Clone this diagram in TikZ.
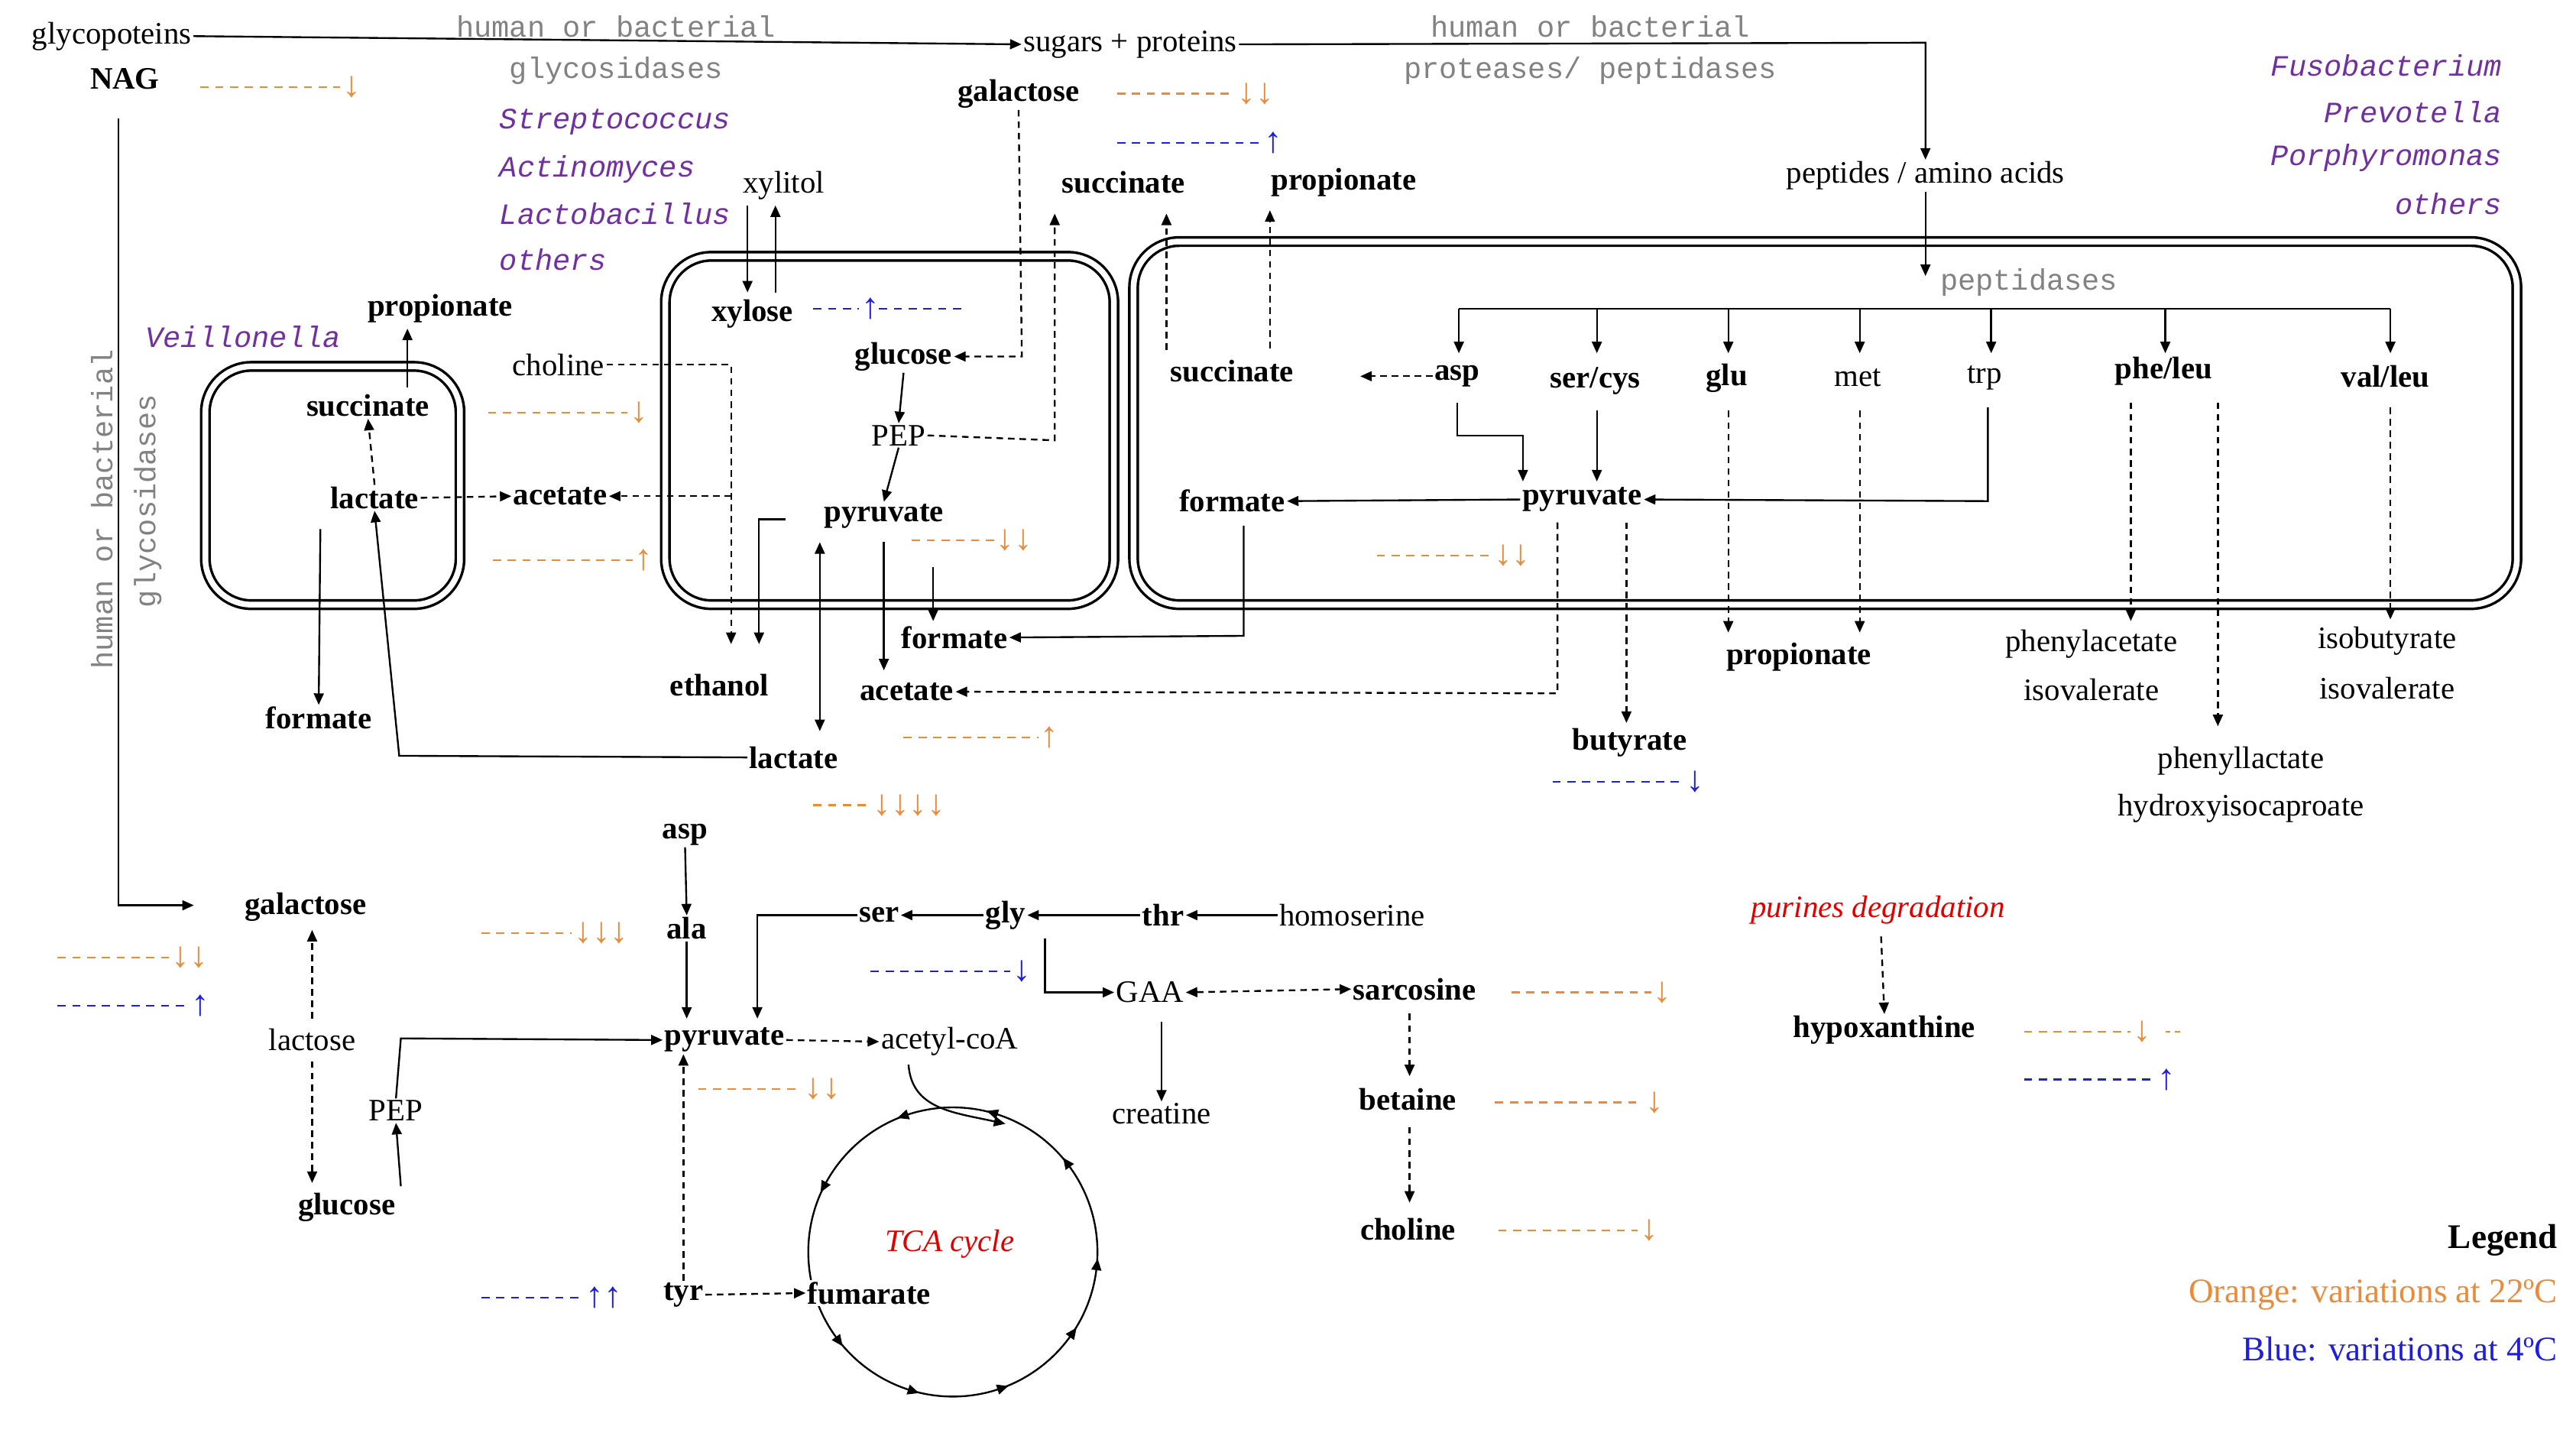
\documentclass[tikz,border=0pt]{standalone}
\usepackage{fontspec}
\setmainfont{Liberation Serif}
\newfontfamily\monof{Liberation Mono}
\usetikzlibrary{arrows.meta,decorations.markings}
\definecolor{org}{RGB}{232,140,60}
\definecolor{blu}{RGB}{30,30,220}
\definecolor{pur}{RGB}{112,48,160}
\definecolor{gry}{RGB}{130,130,130}
\definecolor{rd}{RGB}{225,0,0}
\newcommand\vm[5]{\draw[#4,dashed,dash pattern=on 5pt off 4pt,line width=1pt] (#1,#2) -- ++(#3,0) node[right,inner sep=1pt,text=#4,font=\fontsize{22}{22}\selectfont]{#5};}
\begin{document}
\begin{tikzpicture}[x=1pt,y=-1pt,
 every node/.style={inner sep=1pt,font=\fontsize{19}{20}\selectfont},
 b/.style={font=\fontsize{19}{20}\selectfont\bfseries},
 g/.style={text=gry,font=\fontsize{18}{20}\selectfont\monof},
 p/.style={text=pur,font=\fontsize{18}{20}\selectfont\monof\itshape},
 a/.style={-{Triangle[length=7pt,width=6pt]},line width=1.1pt},
 d/.style={a,dashed,dash pattern=on 4pt off 3pt},
 dd/.style={{Triangle[length=7pt,width=6pt]}-{Triangle[length=7pt,width=6pt]},line width=1.1pt},
 box/.style={double,double distance=3.5pt,line width=1.6pt,rounded corners=28pt}]
\useasboundingbox (0,0) rectangle (1568,874);
% boxes
\draw[box] (125,223) rectangle (280,368);
\draw[box] (405,156) rectangle (678,368);
\draw[box] (690,147) rectangle (1532,368);
% top
\node (glyco) at (68,22) {glycopoteins};
\node[b] (nag) at (76,48) {NAG};
\node[g] at (375,16) {human or bacterial};
\node[g] at (375,43) {glycosidases};
\node (sug) at (688,27) {sugars + proteins};
\node[b] (gal1) at (620,57) {galactose};
\node[g] at (968,16) {human or bacterial};
\node[g] at (968,43) {proteases/ peptidases};
\node (pep) at (1172,107) {peptides / amino acids};
\draw[a] (glyco.east) -- (sug.west);
\draw[a] (sug.east) -- (1172,26) -- (pep.north);
\node[p,anchor=east] at (1524,40) {Fusobacterium};
\node[p,anchor=east] at (1524,68) {Prevotella};
\node[p,anchor=east] at (1524,96) {Porphyromonas};
\node[p,anchor=east] at (1524,124) {others};
\node[p,anchor=west] at (303,74) {Streptococcus};
\node[p,anchor=west] at (303,103) {Actinomyces};
\node[p,anchor=west] at (303,130) {Lactobacillus};
\node[p,anchor=west] at (303,158) {others};
\node[p] at (148,205) {Veillonella};
\vm{122}{53}{85}{org}{↓}
\vm{680}{57}{72}{org}{↓↓}
\vm{680}{87}{88}{blu}{↑}
% left rotated
\node[g,rotate=90] at (62,310) {human or bacterial};
\node[g,rotate=90] at (90,305) {glycosidases};
% Veillonella box
\node[b] (suc1) at (224,247) {succinate};
\node[b] (lac1) at (228,303) {lactate};
\node[b] (prop1) at (268,188) {propionate};
\node[b] (ace1) at (341,302) {acetate};
\node[b] (for1) at (194,437) {formate};
\node (chol1) at (340,222) {choline};
\draw[a] (248,236) -- (248,200);
\draw[d] (lac1.north) -- (suc1.south);
\draw[d] (lac1.east) -- (ace1.west);
\draw[a] (195,322) -- (for1.north);
\vm{297}{251}{85}{org}{↓}
\vm{300}{341}{85}{org}{↑}
% middle box
\node (xylitol) at (477,113) {xylitol};
\node[b] (xyl) at (458,191) {xylose};
\node[b] (glc1) at (550,217) {glucose};
\node (pep1) at (547,265) {PEP};
\node[b] (pyr1) at (538,314) {pyruvate};
\node[b] (for2) at (581,388) {formate};
\node[b] (eth) at (438,417) {ethanol};
\node[b] (ace2) at (552,421) {acetate};
\node[b] (lac2) at (483,461) {lactate};
\node[b] (suc2) at (684,111) {succinate};
\node[b] (prop2) at (818,111) {propionate};
\draw[a] (455,125) -- (455,178);
\draw[a] (472,178) -- (472,125);
\vm{495}{188}{28}{blu}{↑}
\draw[blu,dashed,dash pattern=on 5pt off 4pt,line width=1pt] (535,188) -- (585,188);
\draw[d] (gal1.south) -- (622,217) -- (glc1.east);
\draw[a] (glc1.south) -- (pep1.north);
\draw[a] (pep1.south) -- (pyr1.north);
\draw[d] (pep1.east) -- (642,268) -- (642,130);
\draw[d] (chol1.east) -- (445,222) -- (445,392);
\draw[d] (445,302) -- (ace1.east);
\draw[a] (478,316) -- (462,316) -- (462,392);
\draw[a] (538,330) -- (538,408);
\draw[a] (568,345) -- (568,378);
\draw[dd] (499,330) -- (499,445);
\draw[a] (lac2.west) -- (243,460) -- (lac1.south);
\vm{555}{329}{50}{org}{↓↓}
\vm{550}{449}{82}{org}{↑}
\vm{495}{490}{35}{org}{↓↓↓↓}
% right box
\node[g] (ptd) at (1235,172) {peptidases};
\draw[a] (pep.south) -- (1172,168);
\node[b] (suc3) at (750,226) {succinate};
\node[b] (asp1) at (887,229) {asp};
\node[b] (sc) at (971,232) {ser/cys};
\node[b] (glu) at (1051,230) {glu};
\node (met) at (1131,230) {met};
\node (trp) at (1208,230) {trp};
\node[b] (phe) at (1317,226) {phe/leu};
\node[b] (val) at (1452,229) {val/leu};
\draw[line width=1.1pt] (888,188) -- (1455,188);
\foreach \x in {888,972,1052,1132,1212,1318,1455} \draw[a] (\x,188) -- (\x,215);
\draw[d] (asp1.west) -- (828,229);
\draw[d] (710,213) -- (710,130);
\draw[d] (773,212) -- (773,128);
\node[b] (pyr2) at (963,304) {pyruvate};
\node[b] (for3) at (750,305) {formate};
\draw[a] (887,245) -- (887,265) -- (927,265) -- (927,293);
\draw[a] (972,250) -- (972,293);
\draw[a] (1210,248) -- (1210,305) -- (pyr2.east);
\draw[a] (pyr2.west) -- (for3.east);
\draw[a] (757,320) -- (757,387) -- (for2.east);
\draw[d] (948,318) -- (948,422) -- (ace2.east);
\node[b] (but) at (992,452) {butyrate};
\draw[d] (990,318) -- (990,440);
\vm{945}{476}{80}{blu}{↓}
\vm{838}{338}{70}{org}{↓↓}
\node[b] (prop3) at (1095,400) {propionate};
\draw[d] (1052,250) -- (1052,385);
\draw[d] (1132,250) -- (1132,385);
\node (phac) at (1273,392) {phenylacetate};
\node at (1273,420) {isovalerate};
\node (phlac) at (1364,463) {phenyllactate};
\node at (1364,492) {hydroxyisocaproate};
\node (isob) at (1453,390) {isobutyrate};
\node at (1453,419) {isovalerate};
\draw[d] (1297,245) -- (1297,378);
\draw[d] (1350,245) -- (1350,442);
\draw[d] (1455,248) -- (1455,377);
% bottom left
\draw[a] (72,72) -- (72,551) -- (118,551);
\node[b] (gal2) at (186,552) {galactose};
\vm{35}{583}{68}{org}{↓↓}
\vm{35}{612}{80}{blu}{↑}
\node (lacto) at (190,633) {lactose};
\node[b] (glc2) at (211,735) {glucose};
\node (pep2) at (241,676) {PEP};
\draw[d] (190,620) -- (190,566);
\draw[d] (190,646) -- (190,720);
\draw[a] (244,722) -- (pep2.south);
% bottom middle
\node[b] (asp2) at (417,508) {asp};
\node[b] (ala) at (418,565) {ala};
\node[b] (pyr3) at (441,633) {pyruvate};
\node (acoa) at (578,634) {acetyl-coA};
\draw[a] (pep2.north) -- (244,632) -- (pyr3.west);
\draw[a] (asp2.south) -- (ala.north);
\draw[a] (ala.south) -- (418,620);
\vm{293}{568}{55}{org}{↓↓↓}
\node[b] (ser) at (535,557) {ser};
\node[b] (gly) at (612,557) {gly};
\node[b] (thr) at (708,557) {thr};
\node (hser) at (823,557) {homoserine};
\draw[a] (hser.west) -- (thr.east);
\draw[a] (thr.west) -- (gly.east);
\draw[a] (gly.west) -- (ser.east);
\draw[a] (ser.west) -- (461,557) -- (461,620);
\vm{530}{591}{85}{blu}{↓}
\node (gaa) at (700,604) {GAA};
\node[b] (sarc) at (861,602) {sarcosine};
\node (creat) at (707,678) {creatine};
\node[b] (bet) at (857,669) {betaine};
\node[b] (chol2) at (857,748) {choline};
\draw[a] (636,571) -- (636,604) -- (gaa.west);
\draw[dd,dashed,dash pattern=on 4pt off 3pt] (gaa.east) -- (sarc.west);
\draw[a] (707,622) -- (creat.north);
\draw[d] (858,617) -- (858,655);
\draw[d] (858,686) -- (858,732);
\vm{920}{604}{85}{org}{↓}
\vm{910}{671}{90}{org}{↓}
\vm{912}{749}{85}{org}{↓}
\draw[d] (pyr3.east) -- (acoa.west);
\vm{425}{663}{63}{org}{↓↓}
% TCA
\draw[line width=1.1pt,postaction={decorate},decoration={markings,
  mark=at position 0.02 with {\arrow{Triangle[reversed,length=7pt,width=6pt]}},
  mark=at position 0.1 with {\arrow{Triangle[reversed,length=7pt,width=6pt]}},
  mark=at position 0.2 with {\arrow{Triangle[reversed,length=7pt,width=6pt]}},
  mark=at position 0.3 with {\arrow{Triangle[reversed,length=7pt,width=6pt]}},
  mark=at position 0.4 with {\arrow{Triangle[reversed,length=7pt,width=6pt]}},
  mark=at position 0.58 with {\arrow{Triangle[reversed,length=7pt,width=6pt]}},
  mark=at position 0.7 with {\arrow{Triangle[reversed,length=7pt,width=6pt]}},
  mark=at position 0.8 with {\arrow{Triangle[reversed,length=7pt,width=6pt]}},
  mark=at position 0.9 with {\arrow{Triangle[reversed,length=7pt,width=6pt]}}}]
  (580,762) circle (88);
\node[text=rd,font=\fontsize{19}{20}\selectfont\itshape] at (578,757) {TCA cycle};
\node[b,fill=white] (fum) at (529,787) {fumarate};
\node[b] (tyr) at (416,788) {tyr};
\draw[d] (tyr.east) -- (fum.west);
\draw[d] (tyr.north) -- (pyr3.south west -| tyr.north);
\draw[a] (553,648) .. controls (555,675) and (580,677) .. (612,684);
\vm{293}{790}{62}{blu}{↑↑}
% purines
\node[text=rd,font=\fontsize{19}{20}\selectfont\itshape] (pur) at (1143,554) {purines degradation};
\node[b] (hyp) at (1147,627) {hypoxanthine};
\draw[d] (1145,570) -- (hyp.north);
\vm{1232}{628}{65}{org}{↓}
\draw[org,dashed,line width=1pt] (1318,628) -- (1328,628);
\vm{1232}{657}{80}{blu}{↑}
% legend
\node[b,anchor=east,font=\fontsize{21}{22}\selectfont\bfseries] at (1558,755) {Legend};
\node[anchor=east,text=org,font=\fontsize{21}{22}\selectfont] at (1558,788) {Orange: variations at 22ºC};
\node[anchor=east,text=blu,font=\fontsize{21}{22}\selectfont] at (1558,821) {Blue: variations at 4ºC};
\end{tikzpicture}
\end{document}
